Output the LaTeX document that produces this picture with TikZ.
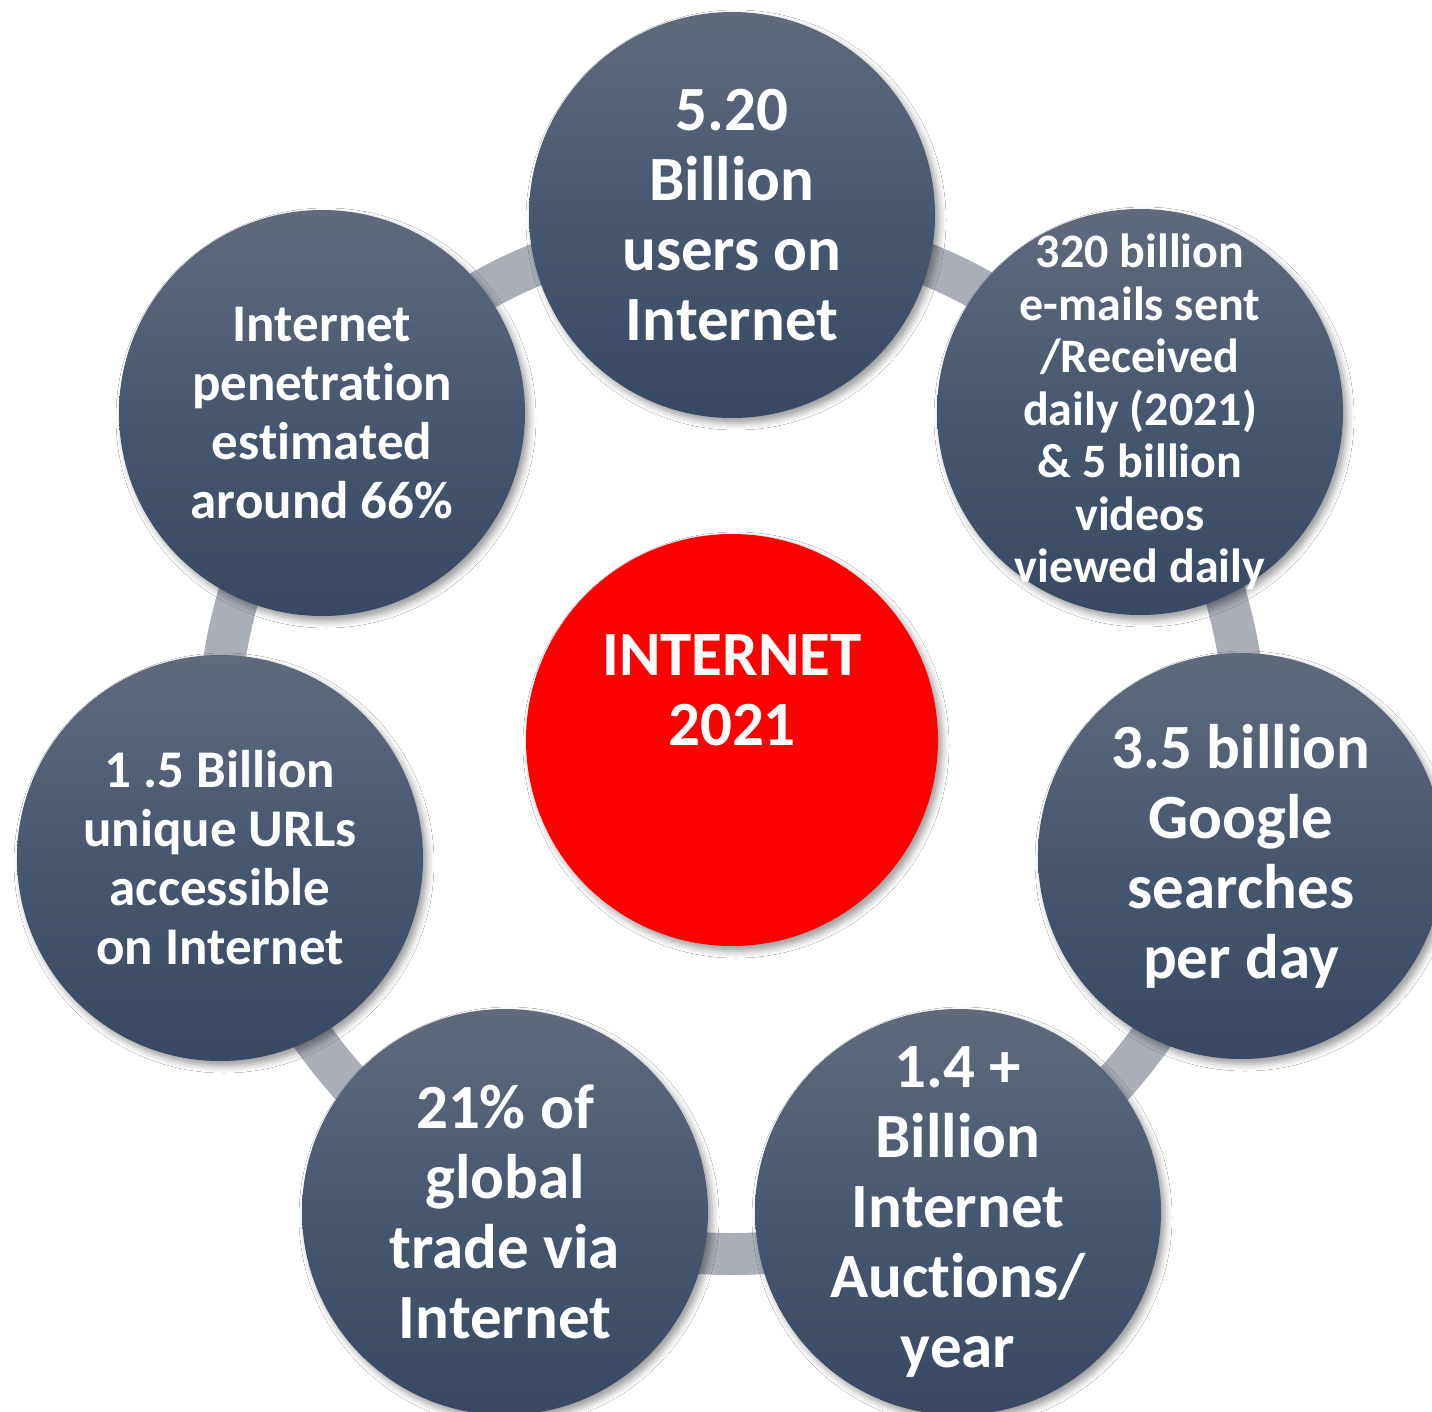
\documentclass[tikz,border=0pt]{standalone}
\usepackage{fontspec}
\setmainfont{Carlito}[Ligatures={NoCommon}]
\usetikzlibrary{shadows.blur}
\definecolor{ringgray}{RGB}{170,174,183}
\definecolor{ctop}{RGB}{96,106,123}
\definecolor{cmid}{RGB}{72,87,112}
\definecolor{cbot}{RGB}{58,73,99}
\definecolor{hubred}{RGB}{255,0,0}
\tikzset{
  stat/.style={circle, minimum size=406pt, inner sep=0pt,
    top color=ctop, bottom color=cbot, middle color=cmid,
    blur shadow={shadow xshift=4pt, shadow yshift=-5pt, shadow blur radius=7pt, shadow opacity=40}},
  stattext/.style={text=white, align=center, inner sep=0pt,
    font=\bfseries\fontsize{63}{70}\selectfont},
  small/.style={font=\bfseries\fontsize{48}{52.5}\selectfont},
  medium/.style={font=\bfseries\fontsize{53}{59}\selectfont},
  hub/.style={circle, minimum size=412pt, inner sep=0pt, fill=hubred,
    blur shadow={shadow xshift=4pt, shadow yshift=-5pt, shadow blur radius=7pt, shadow opacity=40}},
  ring/.style={line width=42pt, draw=ringgray}
}
\begin{document}
\begin{tikzpicture}[x=1pt,y=-1pt]
\useasboundingbox[fill=white] (0,0) rectangle (1432,1412);
% centre
\node[hub] (c) at (732,740) {};
\node[stattext] (ct) at (732,690) {INTERNET\\2021};
% ring joining the outer circles
\draw[ring] (c.center) circle[radius=514pt];
% outer circles
\node[stat] (top) at (732,215) {};
\node[stat] (ur) at (1140,412) {};
\node[stat] (r) at (1241,856) {};
\node[stat] (lr) at (958,1212) {};
\node[stat] (ll) at (505,1212) {};
\node[stat] (l) at (220,858) {};
\node[stat] (ul) at (322,413) {};
% texts
\node[stattext] (topt) at (top) {5.20\\Billion\\users on\\Internet};
\node[stattext, small] (urt) at (ur) {320 billion\\e-mails sent\\/Received\\daily (2021)\\\& 5 billion\\videos\\viewed daily};
\node[stattext] (rt) at (r) {3.5 billion\\Google\\searches\\per day};
\node[stattext] (lrt) at (lr) {1.4 +\\Billion\\Internet\\Auctions/\\year};
\node[stattext] (llt) at (ll) {21\% of\\global\\trade via\\Internet};
\node[stattext, medium] (lt) at (l) {1 .5 Billion\\unique URLs\\accessible\\on Internet};
\node[stattext, medium] (ult) at (ul) {Internet\\penetration\\estimated\\around 66\%};
\end{tikzpicture}
\end{document}
